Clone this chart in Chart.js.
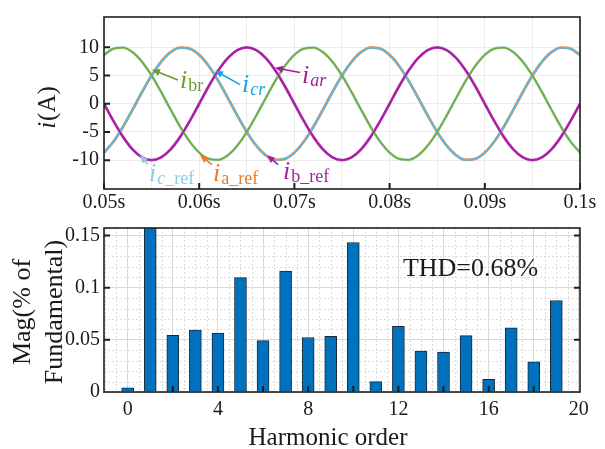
<!DOCTYPE html>
<html>
<head>
<meta charset="utf-8">
<script src="https://cdn.jsdelivr.net/npm/chart.js@4.4.1/dist/chart.umd.min.js"></script>
<style>
  html, body { margin: 0; padding: 0; background: #fff; }
  #wrap { position: relative; width: 605px; height: 449px; overflow: hidden; }
  canvas { position: absolute; left: 0; }
  #waveChart { top: 0; }
  #thdChart { top: 212px; }
</style>
</head>
<body>
<div id="wrap">
  <canvas id="waveChart" width="605" height="215"></canvas>
  <canvas id="thdChart" width="605" height="237"></canvas>
</div>
<script>
// ---- phase currents, sampled every 1 ms ----
const timeS = [
  0.050, 0.051, 0.052, 0.053, 0.054, 0.055, 0.056, 0.057, 0.058, 0.059,
  0.060, 0.061, 0.062, 0.063, 0.064, 0.065, 0.066, 0.067, 0.068, 0.069,
  0.070, 0.071, 0.072, 0.073, 0.074, 0.075, 0.076, 0.077, 0.078, 0.079,
  0.080, 0.081, 0.082, 0.083, 0.084, 0.085, 0.086, 0.087, 0.088, 0.089,
  0.090, 0.091, 0.092, 0.093, 0.094, 0.095, 0.096, 0.097, 0.098, 0.099,
  0.100
];
const iar = [
  0, -3.09, -5.88, -8.09, -9.51, -10, -9.51, -8.09, -5.88, -3.09,
  0, 3.09, 5.88, 8.09, 9.51, 10, 9.51, 8.09, 5.88, 3.09,
  0, -3.09, -5.88, -8.09, -9.51, -10, -9.51, -8.09, -5.88, -3.09,
  0, 3.09, 5.88, 8.09, 9.51, 10, 9.51, 8.09, 5.88, 3.09,
  0, -3.09, -5.88, -8.09, -9.51, -10, -9.51, -8.09, -5.88, -3.09,
  0
];
const ibr = [
  8.66, 9.78, 9.95, 9.14, 7.43, 5, 2.08, -1.05, -4.07, -6.69,
  -8.66, -9.78, -9.95, -9.14, -7.43, -5, -2.08, 1.05, 4.07, 6.69,
  8.66, 9.78, 9.95, 9.14, 7.43, 5, 2.08, -1.05, -4.07, -6.69,
  -8.66, -9.78, -9.95, -9.14, -7.43, -5, -2.08, 1.05, 4.07, 6.69,
  8.66, 9.78, 9.95, 9.14, 7.43, 5, 2.08, -1.05, -4.07, -6.69,
  -8.66
];
const icr = [
  -8.66, -6.69, -4.07, -1.05, 2.08, 5, 7.43, 9.14, 9.95, 9.78,
  8.66, 6.69, 4.07, 1.05, -2.08, -5, -7.43, -9.14, -9.95, -9.78,
  -8.66, -6.69, -4.07, -1.05, 2.08, 5, 7.43, 9.14, 9.95, 9.78,
  8.66, 6.69, 4.07, 1.05, -2.08, -5, -7.43, -9.14, -9.95, -9.78,
  -8.66, -6.69, -4.07, -1.05, 2.08, 5, 7.43, 9.14, 9.95, 9.78,
  8.66
];
// reference currents (tracked almost exactly)
const iaRef = [
  -8.66, -6.69, -4.07, -1.05, 2.08, 5, 7.43, 9.14, 9.95, 9.78,
  8.66, 6.69, 4.07, 1.05, -2.08, -5, -7.43, -9.14, -9.95, -9.78,
  -8.66, -6.69, -4.07, -1.05, 2.08, 5, 7.43, 9.14, 9.95, 9.78,
  8.66, 6.69, 4.07, 1.05, -2.08, -5, -7.43, -9.14, -9.95, -9.78,
  -8.66, -6.69, -4.07, -1.05, 2.08, 5, 7.43, 9.14, 9.95, 9.78,
  8.66
];
const ibRef = [
  0, -3.09, -5.88, -8.09, -9.51, -10, -9.51, -8.09, -5.88, -3.09,
  0, 3.09, 5.88, 8.09, 9.51, 10, 9.51, 8.09, 5.88, 3.09,
  0, -3.09, -5.88, -8.09, -9.51, -10, -9.51, -8.09, -5.88, -3.09,
  0, 3.09, 5.88, 8.09, 9.51, 10, 9.51, 8.09, 5.88, 3.09,
  0, -3.09, -5.88, -8.09, -9.51, -10, -9.51, -8.09, -5.88, -3.09,
  0
];
const icRef = [
  8.66, 9.78, 9.95, 9.14, 7.43, 5, 2.08, -1.05, -4.07, -6.69,
  -8.66, -9.78, -9.95, -9.14, -7.43, -5, -2.08, 1.05, 4.07, 6.69,
  8.66, 9.78, 9.95, 9.14, 7.43, 5, 2.08, -1.05, -4.07, -6.69,
  -8.66, -9.78, -9.95, -9.14, -7.43, -5, -2.08, 1.05, 4.07, 6.69,
  8.66, 9.78, 9.95, 9.14, 7.43, 5, 2.08, -1.05, -4.07, -6.69,
  -8.66
];
const timeTicks = [0.05, 0.06, 0.07, 0.08, 0.09, 0.1];
const timeTickLabels = ['0.05s', '0.06s', '0.07s', '0.08s', '0.09s', '0.1s'];
const currentTicks = [-10, -5, 0, 5, 10];

// ---- harmonic spectrum ----
const harmonicOrder = [0, 1, 2, 3, 4, 5, 6, 7, 8, 9, 10, 11, 12, 13, 14, 15, 16, 17, 18, 19];
const magnitude = [
  0.0041, 100, 0.0544, 0.0594, 0.0565, 0.1097, 0.0493, 0.1159, 0.0523, 0.0535,
  0.1434, 0.0100, 0.0630, 0.0393, 0.0382, 0.0541, 0.0121, 0.0615, 0.0289, 0.0878
];
const harmonicTicks = [0, 4, 8, 12, 16, 20];
const magTicks = [0, 0.05, 0.1, 0.15];
const magTickLabels = ['0', '0.05', '0.1', '0.15'];
const thdText = 'THD=0.68%';

const SERIF = '"Liberation Serif", "Times New Roman", serif';
Chart.defaults.font.family = SERIF;
Chart.defaults.color = '#1a1a1a';

function series(values, color, width) {
  return {
    data: timeS.map((t, i) => ({ x: t, y: values[i] })),
    borderColor: color,
    borderWidth: width,
    pointRadius: 0,
    cubicInterpolationMode: 'monotone',
    fill: false
  };
}

// box round the plot area plus inward tick marks
const framePlugin = {
  id: 'frame',
  afterDatasetsDraw(chart, args, opts) {
    const { ctx, chartArea: a, scales } = chart;
    ctx.save();
    ctx.strokeStyle = '#1e1e1e';
    ctx.lineWidth = 1.6;
    ctx.strokeRect(a.left, a.top, a.right - a.left, a.bottom - a.top);
    ctx.lineWidth = 2;
    ctx.beginPath();
    (opts.xTicks || []).forEach(v => {
      const px = scales.x.getPixelForValue(v);
      ctx.moveTo(px, a.bottom);
      ctx.lineTo(px, a.bottom - opts.len);
    });
    (opts.yTicks || []).forEach(v => {
      const py = scales.y.getPixelForValue(v);
      ctx.moveTo(a.left, py);
      ctx.lineTo(a.left + opts.len, py);
      if (opts.mirror) {
        ctx.moveTo(a.right, py);
        ctx.lineTo(a.right - opts.len, py);
      }
    });
    ctx.stroke();
    ctx.restore();
  }
};

function arrow(ctx, x0, y0, x1, y1, color) {
  const ang = Math.atan2(y1 - y0, x1 - x0);
  ctx.strokeStyle = color;
  ctx.fillStyle = color;
  ctx.lineWidth = 1.6;
  ctx.beginPath();
  ctx.moveTo(x0, y0);
  ctx.lineTo(x1 - 5 * Math.cos(ang), y1 - 5 * Math.sin(ang));
  ctx.stroke();
  ctx.beginPath();
  ctx.moveTo(x1, y1);
  ctx.lineTo(x1 - 8 * Math.cos(ang) + 3.5 * Math.sin(ang), y1 - 8 * Math.sin(ang) - 3.5 * Math.cos(ang));
  ctx.lineTo(x1 - 8 * Math.cos(ang) - 3.5 * Math.sin(ang), y1 - 8 * Math.sin(ang) + 3.5 * Math.cos(ang));
  ctx.closePath();
  ctx.fill();
}

// curve name tags: italic i with a subscript
const tags = [
  { tip: [0.05504, 6.05], tail: [0.05777, 4.22], at: [0.05798, 2.72], color: '#6e9a2e', sub: [['br', false]] },
  { tip: [0.06166, 5.88], tail: [0.06429, 3.38], at: [0.0645, 2.05], color: '#17a3e6', sub: [['cr', true]] },
  { tip: [0.06796, 6.38], tail: [0.07059, 5.55], at: [0.0708, 3.72], color: '#a21c9e', sub: [['ar', true]] },
  { tip: [0.05378, -9.12], tail: [0.05462, -10.78], at: [0.05473, -13.62], color: '#8ccbe6', sub: [['c', true], ['_ref', false]] },
  { tip: [0.06008, -9.12], tail: [0.06134, -10.78], at: [0.06145, -13.62], color: '#f07a1e', sub: [['a_ref', false]] },
  { tip: [0.06712, -9.12], tail: [0.06828, -10.78], at: [0.0688, -13.28], color: '#a3239f', sub: [['b_ref', false]] }
];

const tagPlugin = {
  id: 'tags',
  afterDraw(chart) {
    const { ctx, scales: { x, y } } = chart;
    ctx.save();
    tags.forEach(t => {
      arrow(ctx, x.getPixelForValue(t.tail[0]), y.getPixelForValue(t.tail[1]),
        x.getPixelForValue(t.tip[0]), y.getPixelForValue(t.tip[1]), t.color);
      let px = x.getPixelForValue(t.at[0]);
      const py = y.getPixelForValue(t.at[1]);
      ctx.fillStyle = t.color;
      ctx.textBaseline = 'alphabetic';
      ctx.textAlign = 'left';
      ctx.font = 'italic 26px ' + SERIF;
      ctx.fillText('i', px, py);
      px += ctx.measureText('i').width + 1;
      t.sub.forEach(([s, it]) => {
        ctx.font = (it ? 'italic ' : '') + '18px ' + SERIF;
        ctx.fillText(s, px, py + 3);
        px += ctx.measureText(s).width;
      });
    });
    // y title i(A)
    ctx.translate(55, 108);
    ctx.rotate(-Math.PI / 2);
    ctx.fillStyle = '#1a1a1a';
    ctx.font = 'italic 25px ' + SERIF;
    const wi = ctx.measureText('i').width;
    ctx.font = '25px ' + SERIF;
    const wr = ctx.measureText('(A)').width;
    const x0 = -(wi + wr) / 2;
    ctx.font = 'italic 25px ' + SERIF;
    ctx.fillText('i', x0, 0);
    ctx.font = '25px ' + SERIF;
    ctx.fillText('(A)', x0 + wi + 1, 0);
    ctx.restore();
  }
};

new Chart(document.getElementById('waveChart'), {
  type: 'line',
  data: {
    datasets: [
      series(iar, '#a3219f', 1.8),
      series(ibr, '#77ac30', 1.8),
      series(icr, '#4dbeee', 1.8),
      series(iaRef, '#f0883c', 2.8),
      series(icRef, '#9fd5ea', 2.8),
      series(ibRef, '#c044c0', 2.8)
    ]
  },
  options: {
    responsive: false,
    animation: false,
    devicePixelRatio: 1,
    layout: { padding: { top: 6, right: 25, left: 0, bottom: 0 } },
    plugins: {
      legend: { display: false },
      tooltip: { enabled: false },
      frame: { xTicks: timeTicks, yTicks: currentTicks, len: 6 }
    },
    scales: {
      x: {
        type: 'linear',
        min: 0.05,
        max: 0.1,
        afterBuildTicks: s => {
          const t = [];
          for (let i = 0; i <= 10; i++) t.push({ value: +(0.05 + i * 0.005).toFixed(4) });
          s.ticks = t;
        },
        afterFit: s => { s.height = 26; },
        grid: { color: '#ebebeb', drawTicks: false },
        border: { display: false },
        ticks: {
          padding: 2,
          autoSkip: false,
          maxRotation: 0,
          font: { size: 20 },
          callback: v => {
            const k = timeTicks.findIndex(t => Math.abs(t - v) < 1e-9);
            return k >= 0 ? timeTickLabels[k] : '';
          }
        }
      },
      y: {
        min: -15.12,
        max: 15.38,
        afterBuildTicks: s => { s.ticks = currentTicks.map(v => ({ value: v })); },
        afterFit: s => { s.width = 104; },
        grid: { color: '#ebebeb', drawTicks: false },
        border: { display: false },
        ticks: { padding: 5, font: { size: 20 } }
      }
    }
  },
  plugins: [framePlugin, tagPlugin]
});

// dotted minor grid of the spectrum plot
const minorGridPlugin = {
  id: 'minorGrid',
  beforeDatasetsDraw(chart) {
    const { ctx, chartArea: a, scales: { x, y } } = chart;
    ctx.save();
    ctx.strokeStyle = '#dcdcdc';
    ctx.lineWidth = 1;
    ctx.setLineDash([2, 2]);
    ctx.beginPath();
    for (let v = -1; v <= 20; v += 0.5) {
      if (v % 2 === 0) continue;
      const px = Math.round(x.getPixelForValue(v)) + 0.5;
      if (px <= a.left || px >= a.right) continue;
      ctx.moveTo(px, a.top);
      ctx.lineTo(px, a.bottom);
    }
    for (let i = 1; i <= 15; i++) {
      if (i % 5 === 0) continue;
      const py = Math.round(y.getPixelForValue(i / 100)) + 0.5;
      ctx.moveTo(a.left, py);
      ctx.lineTo(a.right, py);
    }
    ctx.stroke();
    ctx.restore();
  }
};

const spectrumTextPlugin = {
  id: 'spectrumText',
  afterDraw(chart) {
    const { ctx, scales: { x, y } } = chart;
    ctx.save();
    ctx.fillStyle = '#1a1a1a';
    ctx.textBaseline = 'alphabetic';
    ctx.font = '26px ' + SERIF;
    ctx.textAlign = 'left';
    ctx.fillText(thdText, x.getPixelForValue(12.2), y.getPixelForValue(0.111));
    ctx.font = '25px ' + SERIF;
    ctx.textAlign = 'center';
    ctx.fillText('Harmonic order', 328, 233);
    ctx.font = '26px ' + SERIF;
    ctx.save();
    ctx.translate(30, 100);
    ctx.rotate(-Math.PI / 2);
    ctx.fillText('Mag(% of', 0, 0);
    ctx.restore();
    ctx.translate(62, 100);
    ctx.rotate(-Math.PI / 2);
    ctx.fillText('Fundamental)', 0, 0);
    ctx.restore();
  }
};

new Chart(document.getElementById('thdChart'), {
  type: 'bar',
  data: {
    datasets: [{
      data: harmonicOrder.map((h, i) => ({ x: h, y: magnitude[i] })),
      backgroundColor: '#0072bd',
      borderColor: '#1c2833',
      borderWidth: 1,
      barThickness: 12,
      clip: { left: 2, right: 2, top: 0, bottom: 2 }
    }]
  },
  options: {
    responsive: false,
    animation: false,
    devicePixelRatio: 1,
    layout: { padding: { top: 3, right: 25, left: 0, bottom: 0 } },
    plugins: {
      legend: { display: false },
      tooltip: { enabled: false },
      frame: { xTicks: [2, 4, 6, 8, 10, 12, 14, 16, 18], yTicks: [0.05, 0.1, 0.15], len: 6, mirror: true }
    },
    scales: {
      x: {
        type: 'linear',
        offset: false,
        min: -1.05,
        max: 20.05,
        afterBuildTicks: s => {
          const t = [];
          for (let v = 0; v <= 20; v += 2) t.push({ value: v });
          s.ticks = t;
        },
        afterFit: s => { s.height = 57; },
        grid: { color: '#d9d9d9', drawTicks: false, offset: false },
        border: { display: false },
        ticks: {
          padding: 6,
          autoSkip: false,
          maxRotation: 0,
          font: { size: 20 },
          callback: v => harmonicTicks.includes(v) ? String(v) : ''
        }
      },
      y: {
        min: 0,
        max: 0.1573,
        afterBuildTicks: s => { s.ticks = magTicks.map(v => ({ value: v })); },
        afterFit: s => { s.width = 104; },
        grid: { color: '#d9d9d9', drawTicks: false },
        border: { display: false },
        ticks: {
          padding: 4,
          font: { size: 20 },
          callback: (v, i) => magTickLabels[i]
        }
      }
    }
  },
  plugins: [minorGridPlugin, framePlugin, spectrumTextPlugin]
});
</script>
</body>
</html>
